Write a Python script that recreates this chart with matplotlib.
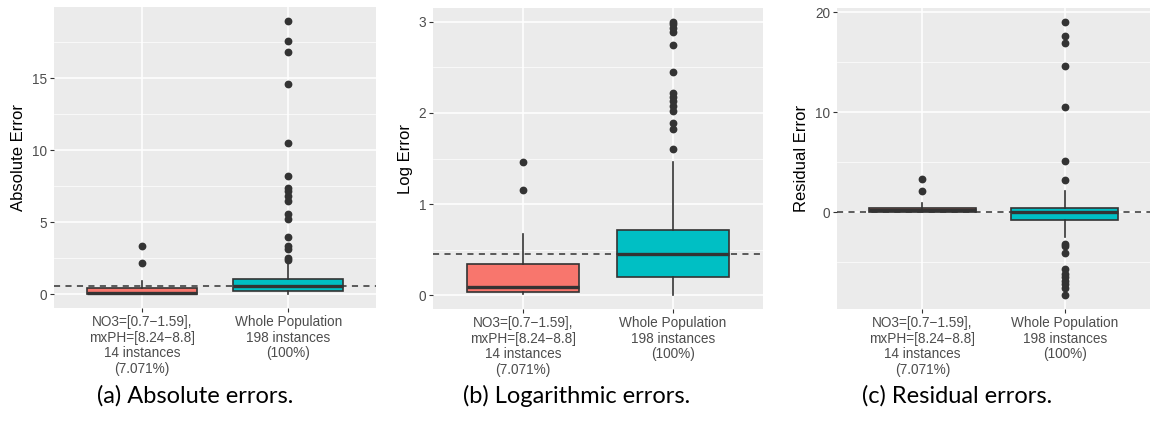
import matplotlib
matplotlib.use("Agg")
import matplotlib.pyplot as plt
from matplotlib.ticker import MultipleLocator

# Box statistics per panel: [subgroup, whole population]
groups = ["NO3=[0.7\u22121.59],\nmxPH=[8.24\u22128.8]\n14 instances\n(7.071%)",
          "Whole Population\n198 instances\n(100%)"]

abs_q1 = [0.05, 0.23]
abs_med = [0.12, 0.60]
abs_q3 = [0.42, 1.05]
abs_lo = [0.0, 0.0]
abs_hi = [0.92, 2.15]
abs_out = [[3.35, 2.2],
           [19.0, 17.6, 16.85, 14.6, 10.5, 8.2, 7.4, 7.15, 6.85, 6.5, 5.6,
            5.2, 3.95, 3.35, 3.15, 2.5, 2.35]]

log_q1 = [0.033, 0.20]
log_med = [0.092, 0.455]
log_q3 = [0.345, 0.72]
log_lo = [0.015, 0.0]
log_hi = [0.674, 1.46]
log_out = [[1.465, 1.16],
           [3.0, 2.97, 2.93, 2.89, 2.745, 2.445, 2.22, 2.17, 2.13, 2.08,
            2.02, 1.885, 1.825, 1.6]]

res_q1 = [0.02, -0.8]
res_med = [0.25, 0.05]
res_q3 = [0.40, 0.43]
res_lo = [0.0, -2.46]
res_hi = [0.94, 2.1]
res_out = [[3.3, 2.17],
           [19.04, 17.65, 16.9, 14.6, 10.54, 5.17, 3.27, -3.16, -3.4, -4.06,
            -5.66, -6.2, -6.5, -6.85, -7.2, -7.55, -8.3]]

fills = ["#F8766D", "#00BFC4"]
W, H = 1150, 421


def px_axes(fig, left, top, right, bottom):
    return fig.add_axes([left / W, 1 - bottom / H, (right - left) / W, (bottom - top) / H])


def draw_panel(ax, q1, med, q3, lo, hi, out, ylabel, major, minor, caption, cap_x):
    stats = []
    for i in range(2):
        stats.append(dict(q1=q1[i], med=med[i], q3=q3[i], whislo=lo[i],
                          whishi=hi[i], fliers=out[i]))
    ax.set_facecolor("#EBEBEB")
    for s in ax.spines.values():
        s.set_visible(False)
    ax.yaxis.set_major_locator(MultipleLocator(major))
    ax.yaxis.set_minor_locator(MultipleLocator(minor))
    ax.grid(which="major", color="white", lw=1.1, zorder=0)
    ax.grid(which="minor", axis="y", color="white", lw=0.5, zorder=0)
    ax.set_axisbelow(True)

    bp = ax.bxp(stats, positions=[1, 2], widths=0.75, patch_artist=True,
                showcaps=False, manage_ticks=False,
                boxprops=dict(edgecolor="#333333", lw=1.2),
                whiskerprops=dict(color="#333333", lw=1.2),
                medianprops=dict(color="#333333", lw=2.4),
                flierprops=dict(marker="o", markerfacecolor="#333333",
                                markeredgecolor="#333333", markersize=4.6))
    for patch, c in zip(bp["boxes"], fills):
        patch.set_facecolor(c)

    # reference line at the whole-population median
    ax.axhline(med[1], color="#333333", lw=1.1, ls=(0, (4, 3.5)), zorder=5)

    vals = lo + hi + [v for o in out for v in o]
    vmin, vmax = min(vals), max(vals)
    pad = 0.05 * (vmax - vmin)
    ax.set_ylim(vmin - pad, vmax + pad)
    ax.set_xlim(0.4, 2.6)
    ax.set_xticks([1, 2])
    ax.set_xticklabels(groups, fontsize=9.8, color="#4D4D4D", linespacing=1.15,
                       family="Liberation Sans")
    ax.tick_params(axis="both", which="major", length=3, color="#333333",
                   labelsize=9.8, labelcolor="#4D4D4D", pad=2)
    ax.tick_params(axis="y", which="minor", length=0)
    for t in ax.get_yticklabels():
        t.set_family("Liberation Sans")
    ax.set_ylabel(ylabel, fontsize=12, family="Liberation Sans", labelpad=4)
    fig.text(cap_x / W, 1 - 396 / H, caption, ha="center", va="center",
             fontsize=17, family="Lato", color="black")


fig = plt.figure(figsize=(W / 100, H / 100), dpi=100)

ax1 = px_axes(fig, 54, 7, 376, 308)
draw_panel(ax1, abs_q1, abs_med, abs_q3, abs_lo, abs_hi, abs_out,
           "Absolute Error", 5, 2.5, "(a) Absolute errors.", 195)

ax2 = px_axes(fig, 433, 8, 763, 309)
draw_panel(ax2, log_q1, log_med, log_q3, log_lo, log_hi, log_out,
           "Log Error", 1, 0.5, "(b) Logarithmic errors.", 577)

ax3 = px_axes(fig, 837, 8, 1150, 309)
draw_panel(ax3, res_q1, res_med, res_q3, res_lo, res_hi, res_out,
           "Residual Error", 10, 5, "(c) Residual errors.", 957)

fig.savefig("out.png", dpi=100)
